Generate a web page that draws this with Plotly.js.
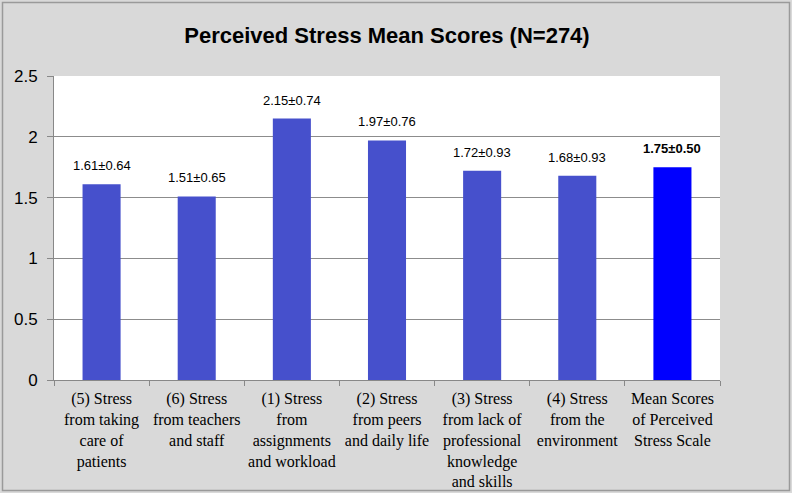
<!DOCTYPE html>
<html>
<head>
<meta charset="utf-8">
<script src="https://cdn.plot.ly/plotly-3.0.1.min.js"></script>
<style>
html,body{margin:0;padding:0;background:#d9d9d9;}
#chart{width:792px;height:493px;}
</style>
</head>
<body>
<div id="chart"></div>
<script>
const categories = [
  "(5) Stress<br>from taking<br>care of<br>patients",
  "(6) Stress<br>from teachers<br>and staff",
  "(1) Stress<br>from<br>assignments<br>and workload",
  "(2) Stress<br>from peers<br>and daily life",
  "(3) Stress<br>from lack of<br>professional<br>knowledge<br>and skills",
  "(4) Stress<br>from the<br>environment",
  "Mean Scores<br>of Perceived<br>Stress Scale"
];
const means = [1.61, 1.51, 2.15, 1.97, 1.72, 1.68, 1.75];
const sds = ["0.64", "0.65", "0.74", "0.76", "0.93", "0.93", "0.50"];
const yTicks = [0, 0.5, 1, 1.5, 2, 2.5];
const yTickText = ["0", "0.5", "1", "1.5", "2", "2.5"];

const barColors = means.map((v, i) => i === means.length - 1 ? "#0000ff" : "#4650cc");

const W = 792, H = 493;
const m = {l: 54, r: 72, t: 76, b: 113};
const pw = W - m.l - m.r, ph = H - m.t - m.b;

const annotations = means.map((v, i) => {
  const last = i === means.length - 1;
  const txt = v.toFixed(2) + "±" + sds[i];
  return {
    x: categories[i], y: v, xref: "x", yref: "y",
    text: last ? "<b>" + txt + "</b>" : txt,
    showarrow: false, yanchor: "bottom", yshift: 9,
    font: {family: "Liberation Sans, Arial, sans-serif", size: 13, color: "#000"}
  };
});

const trace = {
  type: "bar",
  x: categories,
  y: means,
  width: 0.4,
  marker: {color: barColors, line: {width: 0}},
  hoverinfo: "skip"
};

const layout = {
  width: W, height: H,
  paper_bgcolor: "#d9d9d9",
  plot_bgcolor: "#ffffff",
  margin: m,
  showlegend: false,
  title: {
    text: "<b>Perceived Stress Mean Scores (N=274)</b>",
    font: {family: "Liberation Sans, Arial, sans-serif", size: 22, color: "#000"},
    x: 0.5, xanchor: "center", y: 1 - 35 / H, yanchor: "middle",
    xref: "paper"
  },
  xaxis: {
    type: "category",
    tickson: "boundaries",
    ticks: "outside", ticklen: 5, tickcolor: "#888",
    showline: true, linecolor: "#888", linewidth: 1,
    showgrid: false,
    tickfont: {family: "Liberation Serif, Times New Roman, serif", size: 16, color: "#000"},
    tickangle: 0,
    ticklabelstandoff: 4,
    automargin: false,
    fixedrange: true
  },
  yaxis: {
    range: [0, 2.5],
    tickvals: yTicks, ticktext: yTickText,
    ticks: "outside", ticklen: 6, tickcolor: "#888",
    showline: true, linecolor: "#888", linewidth: 1,
    showgrid: true, gridcolor: "#8c8c8c", gridwidth: 1,
    zeroline: false,
    tickfont: {family: "Liberation Sans, Arial, sans-serif", size: 17, color: "#000"},
    ticklabelstandoff: 6,
    automargin: false,
    fixedrange: true
  },
  annotations: annotations,
  shapes: [{
    type: "rect", xref: "paper", yref: "paper",
    x0: (2.5 - m.l) / pw, x1: (789.5 - m.l) / pw,
    y0: (H - 490.5 - m.b) / ph, y1: (H - 2.5 - m.b) / ph,
    line: {color: "#9a9a9a", width: 1.5}, fillcolor: "rgba(0,0,0,0)", layer: "below"
  }]
};

Plotly.newPlot("chart", [trace], layout, {staticPlot: true, displayModeBar: false});
</script>
</body>
</html>
